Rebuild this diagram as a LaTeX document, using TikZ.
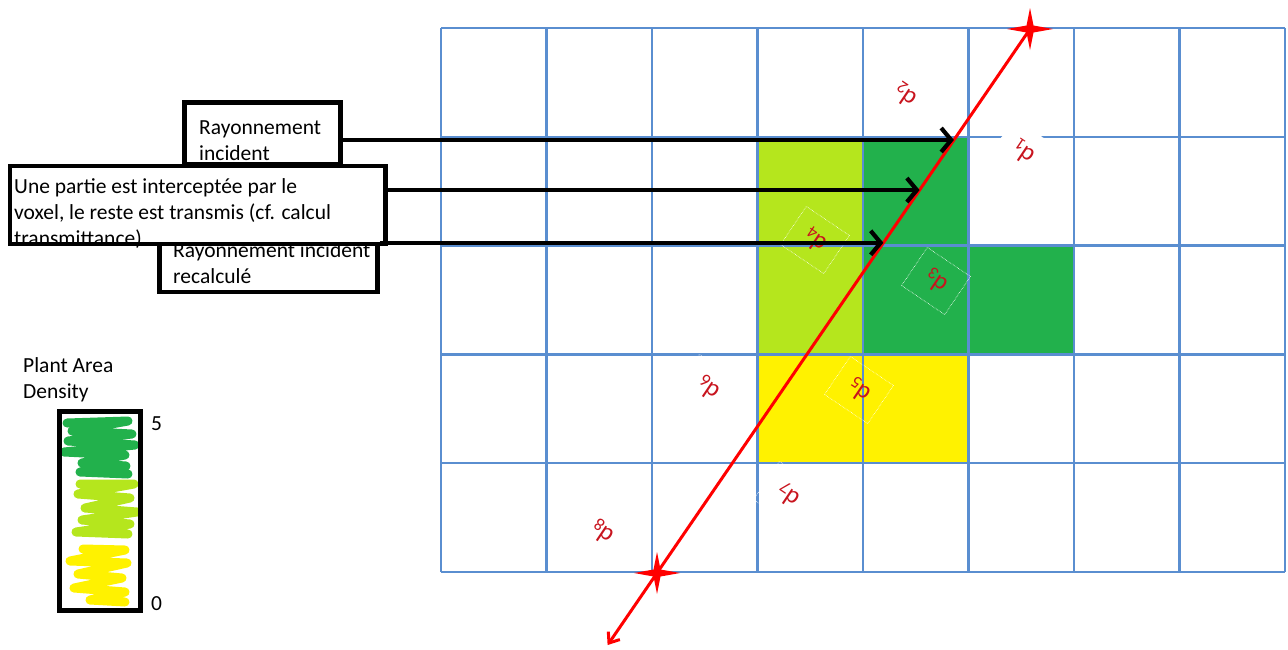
\documentclass[tikz,border=0pt]{standalone}
\usepackage{fontspec}
\setmainfont{Carlito}
\usepackage{tikz}
\usetikzlibrary{arrows.meta,calc}
\definecolor{pxgrid}{HTML}{5A8ED0}
\definecolor{pxlime}{HTML}{B5E61D}
\definecolor{pxgreen}{HTML}{22B14C}
\definecolor{pxyellow}{HTML}{FFF200}
\definecolor{pxred}{HTML}{FF0000}
\definecolor{pxlabel}{HTML}{C8141E}
\tikzset{
  txtbox/.style={draw=black,line width=4.5pt,fill=white,inner sep=0pt},
  txt/.style={anchor=north west,inner sep=0pt,align=left,font=\fontsize{21.5}{26}\selectfont},
  raylabel/.style={draw=white,line width=0.6pt,densely dotted,rotate=146,minimum width=52pt,minimum height=46pt,inner sep=0pt,text=pxlabel,font=\fontsize{25}{28}\selectfont},
  ray/.style={-{Straight Barb[length=10pt,width=24pt]},line width=4.2pt,black},
  scribble/.style={line width=9pt,line cap=round,line join=round}
}

\begin{document}
\begin{tikzpicture}[x=1pt,y=-1pt]
  \useasboundingbox (0,0) rectangle (1288,649);
  % voxels
  \fill[pxlime] (757.5,136.8) rectangle (863,354.4);
  \fill[pxgreen] (863,136.8) rectangle (968.5,354.4);
  \fill[pxgreen] (968.5,245.6) rectangle (1074,354.4);
  \fill[pxyellow] (757.5,354.4) rectangle (968.5,463.2);
  \foreach \i in {0,...,8} \draw[pxgrid,line width=2.3pt] (441+105.5*\i,28) -- (441+105.5*\i,572);
  \foreach \j in {0,...,5} \draw[pxgrid,line width=2.3pt] (441,28+108.8*\j) -- (1285,28+108.8*\j);

  % path lengths
  \node[raylabel,fill=white] (d1) at (1023,152) {d\textsubscript{1}};
  \node[raylabel] (d2) at (905,95) {d\textsubscript{2}};
  \node[raylabel] (d3) at (936,281) {d\textsubscript{3}};
  \node[raylabel] (d4) at (815,240) {d\textsubscript{4}};
  \node[raylabel] (d5) at (859,390) {d\textsubscript{5}};
  \node[raylabel] (d6) at (708,388) {d\textsubscript{6}};
  \node[raylabel] (d7) at (788,495) {d\textsubscript{7}};
  \node[raylabel] (d8) at (602,532) {d\textsubscript{8}};

  % ray
  \coordinate (s1) at (1030,29);
  \coordinate (s2) at (657,573);
  \coordinate (tip) at ($(s1)!1.1324!(s2)$);
  \draw[pxred,line width=3pt,-{Straight Barb[length=9pt,width=14pt]}] (s1) -- (tip);
  \foreach \s in {s1,s2}
    \fill[pxred] (\s) +(23,0) -- +(3.5,-3.5) -- +(0,-21) -- +(-3.5,-3.5) -- +(-23,0) -- +(-3.5,3.5) -- +(0,21) -- +(3.5,3.5) -- cycle;
  \path (s1) -- (s2) coordinate[pos=0.204] (h1) coordinate[pos=0.296] (h2) coordinate[pos=0.393] (h3);

  % boxes
  \node[txtbox,minimum width=218pt,minimum height=54pt] (r3) at (268.5,265) {};
  \node[txt] (t3) at (173,242) {Rayonnement incident\\recalculé};
  \node[txtbox,minimum width=156pt,minimum height=62pt] (r1) at (262.5,133.5) {};
  \node[txt] (t1) at (199,120.5) {Rayonnement\\incident};
  \node[txtbox,minimum width=375.5pt,minimum height=78pt] (r2) at (197.75,205) {};
  \node[txt] (t2) at (14,178) {Une partie est interceptée par le\\voxel, le reste est transmis (cf. calcul\\transmittance)};

  \draw[ray] (r1.east |- h1) -- (h1);
  \draw[ray] (r2.east |- h2) -- (h2);
  \draw[ray] (r3.east |- h3) -- (h3);

  % legend
  \node[txt] (pad) at (23,357) {Plant Area\\Density};
  \draw[scribble,pxgreen] (67,423) -- (128,421) -- (72,431) -- (132,434) -- (68,441) -- (135,445) -- (64,452) -- (125,455) -- (82,463) -- (126,466) -- (80,472) -- (128,474);
  \draw[scribble,pxlime] (80,484) -- (134,484) -- (78,494) -- (130,498) -- (85,508) -- (137,512) -- (82,520) -- (130,524) -- (76,532) -- (128,534);
  \draw[scribble,pxyellow] (83,549) -- (125,550) -- (70,561) -- (127,563) -- (78,574) -- (122,578) -- (74,588) -- (125,592) -- (90,600) -- (125,602);
  \node[draw,line width=4.5pt,minimum width=81pt,minimum height=199pt,inner sep=0pt] (scale) at (100,511) {};
  \node[txt,anchor=west] (hi) at (151,424) {5};
  \node[txt,anchor=west] (lo) at (151,604) {0};
\end{tikzpicture}
\end{document}
